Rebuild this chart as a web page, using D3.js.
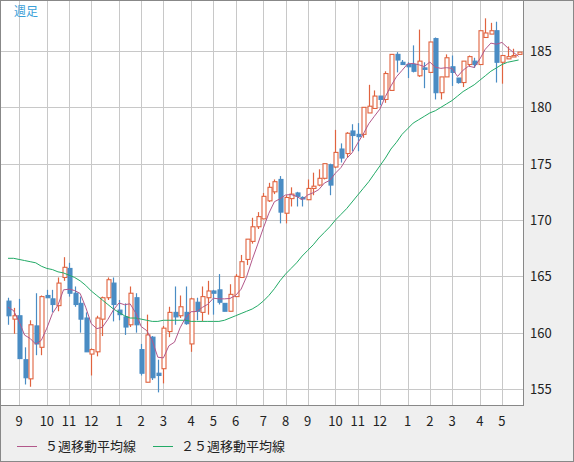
<!DOCTYPE html>
<html lang="ja">
<head>
<meta charset="utf-8">
<title>週足</title>
<script src="https://d3js.org/d3.v7.min.js"></script>
<style>
  body { margin: 0; background: #fff; }
  svg { display: block; font-family: "Noto Sans CJK JP", "DejaVu Sans", sans-serif; }
</style>
</head>
<body>
<svg id="chart" width="574" height="462"></svg>
<script>
// weekly OHLC
var opens  = [162.8,161.2,161.5,157.6,155.9,160.6,158.7,163.3,163.0,162.4,164.9,165.7,163.5,162.6,161.3,158.1,158.3,161.2,163.1,164.4,162.0,161.4,160.7,163.1,158.5,155.6,159.6,156.4,156.8,160.1,161.8,161.5,161.8,159.0,162.7,161.8,163.1,163.7,163.8,162.6,161.9,163.2,164.9,166.5,168.1,169.4,170.1,171.7,172.5,173.6,170.6,171.9,172.4,172.0,171.8,172.8,173.1,173.7,174.9,174.7,176.3,175.9,177.9,177.6,177.6,179.5,179.9,181.0,180.7,181.5,184.7,184.0,183.8,183.8,182.8,183.5,183.1,186.1,181.3,182.7,183.6,182.6,182.2,183.8,184.1,183.8,186.2,186.5,186.8,184.0,184.3,184.5,184.7];
var highs  = [163.1,162.2,163.0,158.7,161.1,163.5,163.3,163.8,163.8,164.9,166.7,166.2,164.1,163.2,161.8,158.6,161.5,163.2,164.9,164.9,162.9,162.6,164.1,163.5,159.0,161.6,159.7,157.6,160.6,162.3,164.1,163.3,164.1,163.1,163.1,164.1,164.6,163.8,165.2,162.6,164.3,165.2,166.9,168.3,170.2,170.7,172.4,173.3,173.6,173.9,172.2,172.9,172.5,172.1,173.6,174.2,174.5,175.0,175.0,178.0,176.8,177.8,178.5,178.6,180.0,182.0,181.5,181.0,183.2,184.7,184.9,184.2,184.0,185.5,186.9,184.0,185.8,186.2,182.7,184.7,184.6,182.6,184.1,184.6,184.4,186.8,187.9,187.5,187.6,184.6,185.4,185.2,184.9];
var lows   = [160.7,159.9,157.7,155.4,155.2,158.0,158.0,163.1,161.8,161.9,164.6,163.2,162.3,160.0,158.3,156.2,157.9,159.7,162.9,161.0,161.1,159.8,160.5,160.0,156.2,155.6,155.8,154.7,155.5,159.6,160.7,161.3,160.7,158.3,161.1,161.0,161.6,161.6,162.5,161.9,161.9,163.2,164.9,166.0,167.9,169.2,170.1,171.6,172.3,169.7,169.7,171.2,171.2,171.2,171.8,172.2,173.0,173.6,172.2,174.6,175.1,175.5,176.1,176.1,177.3,179.5,179.9,180.2,180.4,181.5,183.1,183.8,182.6,183.1,182.7,181.7,183.1,180.7,180.7,182.7,181.9,182.1,181.8,183.6,183.5,183.8,186.2,186.5,182.2,182.1,184.3,184.5,184.7];
var closes = [161.5,161.5,157.7,156.0,160.7,159.0,163.2,163.1,162.5,164.4,165.8,163.5,162.5,161.2,158.3,158.5,161.3,163.1,164.7,162.5,161.6,160.5,163.5,160.7,156.4,159.8,156.0,156.2,160.4,161.8,161.4,162.3,160.8,163.0,161.9,163.2,163.7,163.5,162.7,161.9,163.4,165.0,166.3,168.3,169.4,170.3,172.1,172.9,173.4,170.7,172.0,172.3,172.1,171.9,172.8,173.0,173.7,175.0,173.1,176.0,175.5,177.7,177.5,177.4,180.0,180.1,181.0,180.7,183.0,184.7,184.2,183.8,183.6,183.2,184.1,183.4,185.8,181.3,182.7,184.4,183.1,182.2,184.1,184.5,183.8,186.8,186.6,186.8,184.0,184.6,184.5,184.6,184.9];
// closes of the 4 weeks before the first visible one (for the 5-week average)
var prevCloses = [163.0,162.6,162.0,162.2];
// 25-week moving average
var ma25 = [166.6,166.6,166.5,166.4,166.3,166.2,165.9,165.7,165.6,165.4,165.3,165.1,164.9,164.6,164.2,163.7,163.3,162.9,162.5,162.1,161.8,161.5,161.3,161.3,161.2,161.1,161.0,161.0,161.1,161.1,161.1,161.1,161.1,161.0,161.0,161.0,161.0,161.0,161.0,161.1,161.3,161.5,161.7,161.9,162.1,162.4,162.8,163.3,163.9,164.6,165.2,165.7,166.2,166.8,167.3,167.8,168.4,168.9,169.4,170.0,170.5,171.0,171.6,172.2,172.8,173.4,174.1,174.8,175.5,176.3,176.9,177.6,178.1,178.6,178.9,179.2,179.5,179.7,180.0,180.3,180.6,181.0,181.4,181.7,182.0,182.4,182.8,183.2,183.5,183.8,184.0,184.1,184.2];
// month labels and the week index where each month starts
var monthLabels = ["9","10","11","12","1","2","3","4","5","6","7","8","9","10","11","12","1","2","3","4","5"];
var monthWeeks  = [2,7,11,15,20,24,28,33,37,41,46,50,54,59,63,67,72,76,80,85,89];
var priceTicks = [155,160,165,170,175,180,185];

var allCloses = prevCloses.concat(closes);
var ma5 = closes.map(function(c, i) {
  return d3.mean(allCloses.slice(i, i + 5));
});

var svg = d3.select("#chart");
var W = 574, H = 462, plotR = 523, plotB = 405;
var UP = "#e0633f", DOWN = "#4a8cc4";

var x = d3.scaleLinear().domain([0, closes.length - 1]).range([8, 518.6]);
var y = d3.scaleLinear().domain([155, 185]).range([389, 51]);

// background panels
svg.append("rect").attr("width", W).attr("height", H).attr("fill", "#efefef");
svg.append("rect").attr("x", 1).attr("y", 1).attr("width", plotR - 1).attr("height", plotB - 1).attr("fill", "#fff");

// grid
svg.append("g").selectAll("line").data(priceTicks).join("line")
  .attr("x1", 1).attr("x2", plotR).attr("y1", function(d){ return Math.round(y(d)) + 0.5; })
  .attr("y2", function(d){ return Math.round(y(d)) + 0.5; })
  .attr("stroke", "#c8c8c8");
svg.append("g").selectAll("line").data(monthWeeks).join("line")
  .attr("x1", function(d){ return Math.round(x(d)) + 0.5; }).attr("x2", function(d){ return Math.round(x(d)) + 0.5; })
  .attr("y1", 1).attr("y2", plotB)
  .attr("stroke", "#c8c8c8");

// candles
var idx = d3.range(closes.length);
var g = svg.append("g");
g.selectAll("line.wick").data(idx).join("line")
  .attr("class", "wick")
  .attr("x1", function(i){ return Math.round(x(i)) + 0.5; })
  .attr("x2", function(i){ return Math.round(x(i)) + 0.5; })
  .attr("y1", function(i){ return y(highs[i]); })
  .attr("y2", function(i){ return y(lows[i]); })
  .attr("stroke", function(i){ return closes[i] >= opens[i] ? UP : DOWN; })
  .attr("stroke-width", 1.2);
g.selectAll("rect.body").data(idx).join("rect")
  .attr("class", "body")
  .attr("x", function(i){ return Math.round(x(i)) - 1; })
  .attr("width", 4)
  .attr("y", function(i){ return y(Math.max(opens[i], closes[i])); })
  .attr("height", function(i){ return Math.max(1.5, Math.abs(y(opens[i]) - y(closes[i]))); })
  .attr("fill", function(i){ return closes[i] >= opens[i] ? "#fff" : DOWN; })
  .attr("stroke", function(i){ return closes[i] >= opens[i] ? UP : DOWN; })
  .attr("stroke-width", 1.1);

// moving averages
var line = d3.line().x(function(d, i){ return x(i); }).y(function(d){ return y(d); });
svg.append("path").datum(ma25).attr("d", line).attr("fill", "none").attr("stroke", "#22aa66").attr("stroke-width", 1);
svg.append("path").datum(ma5).attr("d", line).attr("fill", "none").attr("stroke", "#b2588a").attr("stroke-width", 1);

// borders
svg.append("line").attr("x1", plotR + 0.5).attr("x2", plotR + 0.5).attr("y1", 0).attr("y2", plotB).attr("stroke", "#888");
svg.append("line").attr("x1", 0).attr("x2", plotR + 1).attr("y1", plotB + 0.5).attr("y2", plotB + 0.5).attr("stroke", "#888");
svg.append("rect").attr("x", 0.5).attr("y", 0.5).attr("width", W - 1).attr("height", H - 1).attr("fill", "none").attr("stroke", "#888");

// price axis labels
svg.append("g").selectAll("text").data(priceTicks).join("text")
  .attr("x", 530).attr("y", function(d){ return y(d) + 5; })
  .attr("font-size", 13).attr("fill", "#222").text(function(d){ return d; });

// month labels
svg.append("g").selectAll("text").data(monthWeeks).join("text")
  .attr("x", function(d){ return x(d); }).attr("y", 426)
  .attr("text-anchor", "middle").attr("font-size", 13).attr("fill", "#222")
  .text(function(d, i){ return monthLabels[i]; });

// title
svg.append("text").attr("x", 14).attr("y", 16).attr("font-size", 12).attr("fill", "#3aa0d8").text("週足");

// legend
var legend = [{c: "#b2588a", t: "５週移動平均線", x: 17}, {c: "#22aa66", t: "２５週移動平均線", x: 153}];
legend.forEach(function(l) {
  svg.append("line").attr("x1", l.x).attr("x2", l.x + 20).attr("y1", 446.5).attr("y2", 446.5).attr("stroke", l.c);
  svg.append("text").attr("x", l.x + 28).attr("y", 451).attr("font-size", 13).attr("fill", "#222").text(l.t);
});
</script>
</body>
</html>
